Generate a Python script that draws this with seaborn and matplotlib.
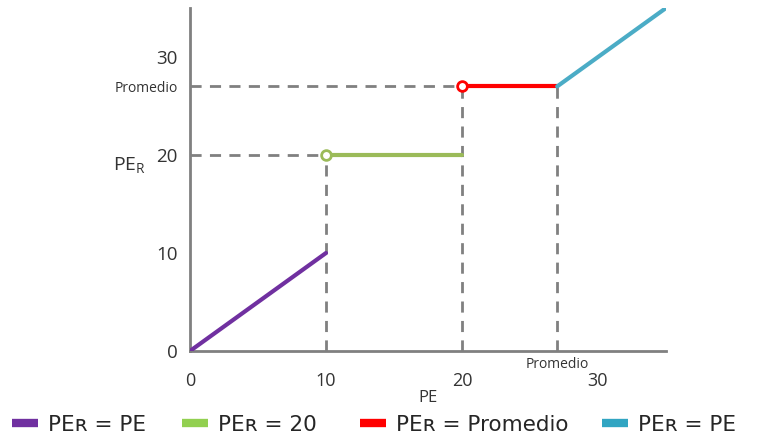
import matplotlib.pyplot as plt
import matplotlib.lines as mlines
import pandas as pd
import seaborn as sns

# valores
promedio = 27
seg_names = ["PEʀ = PE", "PEʀ = 20", "PEʀ = Promedio", "PEʀ = PE "]
seg_pe = [[0, 10], [10, 20], [20, promedio], [promedio, 35]]
seg_per = [[0, 10], [20, 20], [promedio, promedio], [promedio, 35]]
seg_colors = ["#7030A0", "#9BBB59", "#FF0000", "#4BACC6"]
legend_colors = ["#7030A0", "#92D050", "#FF0000", "#31A5C2"]
open_pts_x = [10, 20]
open_pts_y = [20, promedio]
open_colors = ["#9BBB59", "#FF0000"]
x_ticks = [0, 10, 20, 30]
y_ticks = [0, 10, 20, 30]

rows = []
for name, xs, ys in zip(seg_names, seg_pe, seg_per):
    for x, y in zip(xs, ys):
        rows.append({"tramo": name, "PE": x, "PER": y})
df = pd.DataFrame(rows)

sns.set_style("white")
plt.rcParams["font.family"] = ["Open Sans", "DejaVu Sans"]

fig = plt.figure(figsize=(7.57, 4.37), dpi=100)
ax = fig.add_axes([190 / 757, 1 - 351 / 437, 476 / 757, 343 / 437])

guide = dict(color="#808080", lw=2, ls=(0, (4, 3)), zorder=1)
ax.plot([0, 20], [promedio, promedio], **guide)
ax.plot([0, 10], [20, 20], **guide)
ax.plot([10, 10], [0, 20], **guide)
ax.plot([20, 20], [0, promedio], **guide)
ax.plot([promedio, promedio], [0, promedio], **guide)

sns.lineplot(data=df, x="PE", y="PER", hue="tramo", palette=seg_colors,
             linewidth=3, legend=False, ax=ax, zorder=3, estimator=None,
             sort=False)
for x, y, c in zip(open_pts_x, open_pts_y, open_colors):
    ax.plot(x, y, "o", ms=7, mfc="white", mec=c, mew=2, zorder=4)

ax.set_xlim(0, 35)
ax.set_ylim(0, 35)
ax.set_xticks(x_ticks)
ax.set_xticklabels([str(t) for t in x_ticks], fontsize=13, color="#333333")
ax.set_yticks(y_ticks + [promedio])
ax.set_yticklabels([str(t) for t in y_ticks] + ["Promedio"], color="#333333")
for lab in ax.get_yticklabels():
    lab.set_fontsize(10 if lab.get_text() == "Promedio" else 13.5)
ax.tick_params(axis="both", length=7, width=1.5, color="#808080", pad=2)
ax.tick_params(axis="x", direction="out", pad=8)

for s in ["top", "right"]:
    ax.spines[s].set_visible(False)
for s in ["left", "bottom"]:
    ax.spines[s].set_color("#808080")
    ax.spines[s].set_linewidth(2)

ax.text(promedio, -1.4, "Promedio", fontsize=10, color="#333333",
        ha="center", va="center")
ax.set_xlabel("PE", fontsize=12, color="#333333", labelpad=0)
ax.set_ylabel("PE$_\\mathregular{R}$", fontsize=14, color="#333333",
              rotation=0, va="center", ha="center")
ax.yaxis.set_label_coords(-0.127, 0.54)

# leyenda: cuatro entradas colocadas como en la imagen
legend_x = [12, 182, 360, 602]
for name, c, lx in zip(seg_names, legend_colors, legend_x):
    h = mlines.Line2D([], [], color=c, lw=6, solid_capstyle="butt")
    fig.legend([h], [name], loc="center left", frameon=False,
               bbox_to_anchor=(lx / 757, 1 - 425 / 437), handlelength=1.2,
               handletextpad=0.45, borderpad=0, borderaxespad=0,
               prop={"family": "DejaVu Sans", "size": 15.5})

fig.savefig("out.png", dpi=100)
